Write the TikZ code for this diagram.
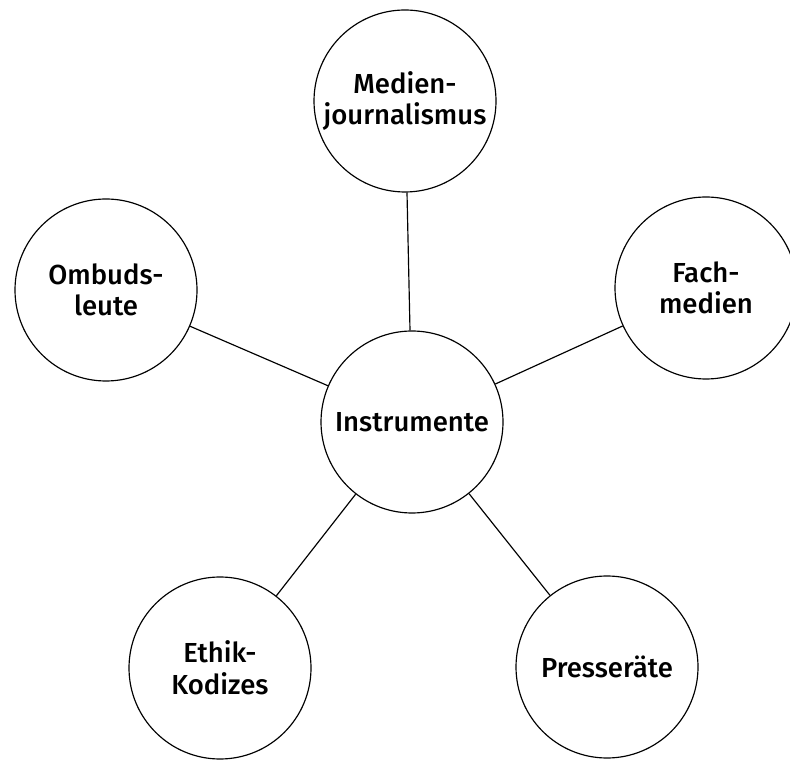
\documentclass[tikz,border=0pt]{standalone}
\usepackage{fontspec}
\setmainfont{Fira Sans}[UprightFont=* Medium]
\usepackage{tikz}
\usetikzlibrary{positioning}

\begin{document}
\begin{tikzpicture}[
    topic/.style={circle, draw, line width=1pt, minimum size=5.46cm, inner sep=0pt,
        align=center, font=\fontsize{23.5}{27}\selectfont},
    link/.style={line width=1pt}
]
    \useasboundingbox (0,0) rectangle (23.7,22.8);

    \node[topic] (instrumente) at (12.36,10.14) {Instrumente};
    \node[topic] (medien) at (12.15,19.77) {Medien-\\journalismus};
    \node[topic] (ombuds) at (3.18,14.1) {Ombuds-\\leute};
    \node[topic] (fach) at (21.18,14.16) {Fach-\\medien};
    \node[topic] (ethik) at (6.6,2.76) {Ethik-\\Kodizes};
    \node[topic] (presse) at (18.21,2.79) {Presseräte};


\draw[link] (instrumente) -- (medien);
\draw[link] (instrumente) -- (ombuds);
\draw[link] (instrumente) -- (fach);
\draw[link] (instrumente) -- (ethik);
\draw[link] (instrumente) -- (presse);

\end{tikzpicture}
\end{document}
